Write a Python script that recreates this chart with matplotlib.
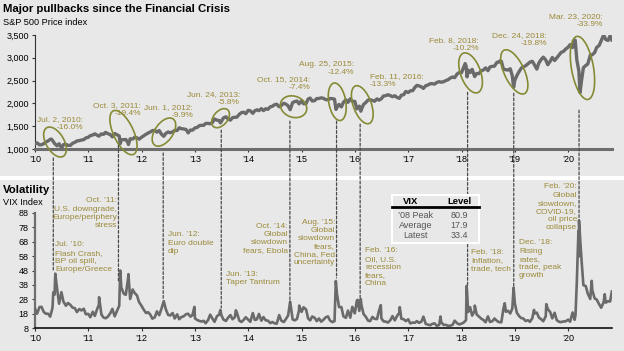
import matplotlib
matplotlib.use("Agg")
import matplotlib.pyplot as plt
import matplotlib.dates as mdates
import matplotlib.transforms as mtransforms
from matplotlib.patches import Ellipse, ConnectionPatch, Rectangle
from matplotlib.lines import Line2D
import numpy as np
import pandas as pd

plt.rcParams['font.family'] = ['Liberation Sans', 'DejaVu Sans']

# ---------------- data: S&P 500 (values on the 1st and 15th of each month) -------------
spx_2010 = [1115, 1136, 1090, 1094, 1115, 1150, 1178, 1211, 1187, 1120, 1070, 1115,
            1027, 1096, 1102, 1080, 1080, 1125, 1146, 1176, 1184, 1197, 1206, 1242]
spx_2011 = [1258, 1293, 1307, 1332, 1306, 1281, 1332, 1320, 1361, 1337, 1315, 1266,
            1340, 1316, 1286, 1204, 1204, 1209, 1131, 1224, 1219, 1257, 1244, 1216]
spx_2012 = [1258, 1289, 1324, 1350, 1374, 1402, 1408, 1370, 1405, 1330, 1310, 1342,
            1374, 1356, 1375, 1405, 1406, 1465, 1444, 1440, 1427, 1353, 1416, 1413]
spx_2013 = [1462, 1472, 1513, 1520, 1518, 1561, 1562, 1553, 1582, 1658, 1631, 1626,
            1606, 1682, 1706, 1661, 1633, 1688, 1695, 1698, 1762, 1798, 1806, 1775]
spx_2014 = [1848, 1838, 1782, 1838, 1859, 1841, 1885, 1842, 1883, 1870, 1924, 1937,
            1973, 1981, 1925, 1955, 2003, 1985, 1946, 1862, 2018, 2039, 2053, 1990]
spx_2015 = [2058, 1992, 1995, 2096, 2117, 2053, 2060, 2106, 2108, 2122, 2111, 2084,
            2077, 2108, 2104, 2092, 1913, 1978, 1923, 2023, 2079, 2023, 2102, 2043]
spx_2016 = [2044, 1880, 1940, 1870, 1978, 2016, 2073, 2081, 2065, 2047, 2099, 2071,
            2103, 2162, 2171, 2190, 2170, 2147, 2168, 2133, 2111, 2180, 2191, 2262]
spx_2017 = [2239, 2275, 2280, 2349, 2395, 2385, 2363, 2329, 2388, 2402, 2431, 2433,
            2423, 2459, 2476, 2465, 2476, 2500, 2519, 2553, 2579, 2564, 2642, 2675]
spx_2018 = [2674, 2786, 2822, 2732, 2678, 2747, 2588, 2656, 2654, 2711, 2735, 2779,
            2718, 2798, 2813, 2818, 2901, 2905, 2924, 2750, 2740, 2730, 2760, 2600]
spx_2019 = [2507, 2610, 2707, 2775, 2803, 2822, 2867, 2905, 2924, 2850, 2752, 2887,
            2964, 3014, 2953, 2848, 2926, 3007, 2940, 2996, 3066, 3120, 3141, 3191]
spx_2020 = [3231, 3289, 3225, 3380, 2954, 2711, 2470, 2783, 2831, 2863, 3055, 3067,
            3115, 3227, 3271, 3373, 3500, 3401, 3380, 3483]
spx_extra_dates = ["2010-04-23", "2010-07-02", "2011-04-29", "2011-08-08", "2011-10-03",
                   "2012-06-01", "2013-06-24", "2014-10-15", "2015-08-25", "2016-02-11",
                   "2018-01-26", "2018-02-08", "2018-09-20", "2018-12-24", "2020-02-19",
                   "2020-03-23", "2020-10-27"]
spx_extra_values = [1217, 1022, 1364, 1119, 1099, 1278, 1573, 1862, 1868, 1829,
                    2873, 2581, 2931, 2351, 3386, 2237, 3390]

# ---------------- data: VIX (1st and 15th of each month) ----------------
vix_2010 = [21.7, 17.9, 22.6, 22.7, 19.3, 18.0, 17.9, 15.9, 22.1, 31.2, 35.5, 24.9,
            32.9, 26.3, 23.5, 25.4, 24.0, 22.2, 21.8, 19.1, 21.2, 20.2, 21.4, 17.6]
vix_2011 = [17.8, 15.5, 19.3, 16.4, 20.7, 24.3, 17.4, 15.3, 14.8, 15.9, 18.3, 21.3,
            16.1, 19.5, 23.4, 36.3, 31.8, 31.1, 42.9, 28.2, 34.8, 32.3, 30.6, 26.0]
vix_2012 = [23.4, 20.9, 18.4, 19.0, 17.3, 14.5, 15.5, 19.6, 16.9, 21.0, 26.7, 21.1,
            17.1, 16.7, 18.4, 14.6, 17.5, 14.1, 15.7, 16.1, 17.6, 17.9, 15.9, 17.0]
vix_2013 = [14.7, 13.6, 12.9, 12.5, 13.0, 11.3, 13.6, 17.3, 14.5, 12.3, 16.3, 17.2,
            16.9, 13.9, 12.9, 15.1, 17.0, 14.1, 15.5, 18.7, 13.1, 12.2, 13.7, 15.5]
vix_2014 = [13.8, 12.3, 18.4, 13.6, 14.0, 17.8, 13.1, 15.6, 13.3, 13.2, 11.4, 12.2,
            11.2, 11.0, 17.0, 13.2, 12.1, 14.1, 16.7, 26.3, 14.0, 13.3, 14.3, 20.4]
vix_2015 = [19.2, 22.4, 20.9, 14.7, 13.3, 16.0, 15.1, 12.8, 14.6, 12.4, 13.8, 15.4,
            16.1, 13.2, 12.1, 12.8, 31.4, 22.5, 22.6, 16.1, 15.1, 20.1, 15.2, 22.7]
vix_2016 = [18.2, 27.0, 19.9, 24.1, 17.7, 16.0, 13.1, 12.8, 15.7, 14.4, 14.2, 20.1,
            14.8, 12.7, 12.4, 11.8, 13.5, 16.3, 13.3, 16.1, 18.6, 14.4, 14.1, 12.8]
vix_2017 = [14.0, 11.2, 11.8, 11.6, 12.8, 11.6, 12.4, 15.9, 10.8, 10.4, 9.9, 10.9,
            11.2, 9.5, 10.1, 12.0, 10.1, 10.2, 9.5, 9.6, 10.2, 13.1, 11.4, 10.5]
vix_2018 = [11.0, 11.7, 13.5, 19.1, 22.5, 16.6, 20.0, 17.4, 15.9, 14.6, 13.5, 12.0,
            16.1, 12.2, 12.8, 14.6, 12.9, 12.1, 12.0, 21.3, 19.3, 20.0, 18.1, 21.6]
vix_2019 = [25.4, 18.6, 16.1, 14.9, 14.6, 12.9, 13.4, 12.3, 14.8, 18.1, 18.7, 15.3,
            14.1, 12.7, 16.1, 21.2, 19.0, 14.7, 18.6, 13.5, 12.3, 12.1, 12.6, 12.6]
vix_2020 = [13.8, 12.4, 18.8, 13.7, 40.1, 57.8, 57.1, 37.8, 37.2, 31.9, 28.2, 34.4,
            28.6, 27.8, 24.5, 22.1, 26.1, 25.6, 26.7, 26.4]
vix_extra_dates = ["2010-05-06", "2010-05-20", "2011-03-16", "2011-08-08", "2011-10-03",
                   "2012-12-28", "2013-06-24", "2013-10-08", "2014-10-15", "2014-12-16",
                   "2015-08-24", "2016-01-20", "2016-02-11", "2016-06-27", "2016-11-04",
                   "2017-08-10", "2018-02-05", "2018-02-08", "2018-04-02", "2018-10-24",
                   "2018-12-24", "2019-05-13", "2019-08-05", "2020-02-21", "2020-03-12",
                   "2020-03-16", "2020-06-11", "2020-09-08", "2020-10-27"]
vix_extra_values = [32.8, 45.8, 29.4, 48.0, 45.5, 22.7, 20.5, 20.3, 26.3, 23.6,
                    40.7, 27.6, 28.1, 23.9, 22.5, 16.0, 37.3, 33.5, 23.6, 25.2,
                    36.1, 20.6, 24.6, 17.1, 75.5, 82.7, 40.8, 31.5, 33.4]

# ---------------- labels ----------------
years = list(range(2010, 2021))
year_labels = ["\u2019" + str(y)[2:] for y in years]
spx_ticks = [1000, 1500, 2000, 2500, 3000, 3500]
vix_ticks = [8, 18, 28, 38, 48, 58, 68, 78, 88]
pullback_labels = ["Jul. 2, 2010:\n-16.0%", "Oct. 3, 2011:\n-19.4%", "Jun. 1, 2012:\n-9.9%",
                   "Jun. 24, 2013:\n-5.8%", "Oct. 15, 2014:\n-7.4%", "Aug. 25, 2015:\n-12.4%",
                   "Feb. 11, 2016:\n-13.3%", "Feb. 8, 2018:\n-10.2%", "Dec. 24, 2018:\n-19.8%",
                   "Mar. 23, 2020:\n-33.9%"]
event_labels = ["Jul. \u201910:\nFlash Crash,\nBP oil spill,\nEurope/Greece",
                "Oct. \u201911:\nU.S. downgrade,\nEurope/periphery\nstress",
                "Jun. \u201912:\nEuro double\ndip",
                "Jun. \u201913:\nTaper Tantrum",
                "Oct. \u201914:\nGlobal\nslowdown\nfears, Ebola",
                "Aug. \u201915:\nGlobal\nslowdown\nfears,\nChina, Fed\nuncertainty",
                "Feb. \u201916:\nOil, U.S.\nrecession\nfears,\nChina",
                "Feb. \u201918:\nInflation,\ntrade, tech",
                "Dec. \u201918:\nRising\nrates,\ntrade, peak\ngrowth",
                "Feb. \u201920:\nGlobal\nslowdown,\nCOVID-19,\noil price\ncollapse"]
vix_stat_names = ["\u201908 Peak", "Average", "Latest"]
vix_stat_values = [80.9, 17.9, 33.4]


def build(year_lists, extra_dates, extra_values):
    dates, vals = [], []
    for y, lst in zip(years, year_lists):
        grid = [f"{y}-{m:02d}-{d:02d}" for m in range(1, 13) for d in (1, 15)]
        dates += grid[:len(lst)]
        vals += lst
    s = pd.Series(vals, index=pd.to_datetime(dates))
    e = pd.Series(extra_values, index=pd.to_datetime(extra_dates))
    s = pd.concat([s[~s.index.isin(e.index)], e]).sort_index()
    return mdates.date2num(s.index.to_pydatetime()), s.values


spx_x, spx_y = build([spx_2010, spx_2011, spx_2012, spx_2013, spx_2014, spx_2015, spx_2016,
                      spx_2017, spx_2018, spx_2019, spx_2020], spx_extra_dates, spx_extra_values)
vix_x, vix_y = build([vix_2010, vix_2011, vix_2012, vix_2013, vix_2014, vix_2015, vix_2016,
                      vix_2017, vix_2018, vix_2019, vix_2020], vix_extra_dates, vix_extra_values)


def dy(y):
    """decimal year -> matplotlib date number"""
    yr = int(np.floor(y))
    return mdates.date2num(pd.Timestamp(f"{yr}-01-01").to_pydatetime()) + (y - yr) * 365.25


# ---------------- styles ----------------
BG = '#e8e8e8'
LINE = '#6a6a6a'
OLIVE_TXT = '#9b8a3a'
OLIVE_ELL = '#858a34'
W, H = 624, 351


def fx(px):
    return px / W


def fy(py):
    return 1 - py / H


fig = plt.figure(figsize=(W / 100, H / 100), dpi=100)
fig.patch.set_facecolor(BG)

# white separator band
fig.add_artist(Rectangle((0, fy(180)), 1, 4 / H, transform=fig.transFigure,
                         facecolor='white', edgecolor='none', zorder=0.5))

ax1 = fig.add_axes([fx(35), fy(149), (612 - 35) / W, (149 - 35) / H])
ax2 = fig.add_axes([fx(35), fy(328), (612 - 35) / W, (328 - 213) / H])
xlim = (mdates.date2num(pd.Timestamp("2010-01-01").to_pydatetime()),
        mdates.date2num(pd.Timestamp("2020-10-28").to_pydatetime()))
tick_pos = [mdates.date2num(pd.Timestamp(f"{y}-01-01").to_pydatetime()) for y in years]

for ax in (ax1, ax2):
    ax.set_facecolor('none')
    ax.set_xlim(*xlim)
    ax.set_xticks(tick_pos)
    ax.set_xticklabels(year_labels, fontsize=6.5)
    for s in ('top', 'right'):
        ax.spines[s].set_visible(False)
    ax.tick_params(axis='x', direction='out', length=2, width=0.8, pad=2.5, color='#333333')
    ax.tick_params(axis='y', direction='out', length=2.5, width=0.8, pad=2, labelsize=6.5,
                   color='#333333')

# --- top panel
ax1.plot(spx_x, spx_y, color=LINE, lw=2.4, solid_joinstyle='round', zorder=3)
ax1.set_ylim(1000, 3500)
ax1.set_yticks(spx_ticks)
ax1.set_yticklabels([f"{v:,}" for v in spx_ticks])
ax1.spines['left'].set_color('#333333')
ax1.spines['left'].set_linewidth(0.8)
ax1.spines['bottom'].set_color('#6e6e6e')
ax1.spines['bottom'].set_linewidth(2.2)

# --- bottom panel
ax2.plot(vix_x, vix_y, color=LINE, lw=1.9, solid_joinstyle='round', zorder=3)
ax2.set_ylim(8, 88)
ax2.set_yticks(vix_ticks)
ax2.spines['left'].set_color('#6e6e6e')
ax2.spines['left'].set_linewidth(1.6)
ax2.spines['bottom'].set_color('#111111')
ax2.spines['bottom'].set_linewidth(1.2)

# titles
fig.text(fx(3), fy(12), "Major pullbacks since the Financial Crisis", fontsize=8.2,
         fontweight='bold', ha='left', va='baseline')
fig.text(fx(3), fy(25), "S&P 500 Price index", fontsize=6.6, ha='left', va='baseline')
fig.text(fx(3), fy(193), "Volatility", fontsize=8.2, fontweight='bold', ha='left', va='baseline')
fig.text(fx(3), fy(205), "VIX Index", fontsize=6.6, ha='left', va='baseline')

# ellipses around pullbacks (centre in data coords, size in pixels)
ellipses = [(2010.375, 1153, 33, 18, -60), (2011.66, 1360, 48, 20, -65),
            (2012.42, 1371, 32, 18, 55), (2013.48, 1676, 22, 14, 50),
            (2014.85, 1927, 27, 21, -20), (2015.67, 2036, 38, 17, -80),
            (2016.14, 1971, 40, 18, -70), (2018.17, 2669, 42, 20, -70),
            (2018.99, 2691, 48, 20, -65), (2020.27, 2778, 64, 22, -80)]
for (cx, cy, w, h, ang) in ellipses:
    tr = mtransforms.Affine2D().scale(fig.dpi / 100) + \
        mtransforms.ScaledTranslation(dy(cx), cy, ax1.transData)
    ax1.add_patch(Ellipse((0, 0), w, h, angle=ang, transform=tr, fill=False,
                          edgecolor=OLIVE_ELL, lw=1.2, clip_on=False, zorder=4))

# pullback labels (anchor px, top px, alignment)
pull_pos = [(83, 116.5, 'right'), (141, 102.5, 'right'), (193, 104.5, 'right'),
            (240, 91.5, 'right'), (310, 76.5, 'right'), (354, 61.5, 'right'),
            (370, 73.5, 'left'), (479, 37.5, 'right'), (547, 32.5, 'right'),
            (603, 13.5, 'right')]
for txt, (px, py, ha) in zip(pullback_labels, pull_pos):
    fig.text(fx(px), fy(py), txt, fontsize=6, color=OLIVE_TXT, ha=ha, va='top',
             multialignment=ha, linespacing=1.13)

# dashed connector lines (decimal year, top price, bottom vix)
connectors = [(2010.343, 804, 48.3), (2011.566, 1087, 40.0), (2012.406, 913, 27.5),
              (2013.493, 1415, 21.9), (2014.781, 1611, 25.4), (2015.657, 1611, 42.8),
              (2016.100, 1545, 28.9), (2018.114, 2244, 37.9), (2018.980, 2222, 36.5),
              (2020.206, 1851, 83.1)]
for (x, ytop, ybot) in connectors:
    cp = ConnectionPatch(xyA=(dy(x), ytop), coordsA=ax1.transData,
                         xyB=(dy(x), ybot), coordsB=ax2.transData,
                         color='#4a4a4a', lw=0.9, linestyle=(0, (2.2, 1.6)), zorder=2)
    fig.add_artist(cp)

# event labels in volatility panel (anchor px, top px, alignment)
event_pos = [(55, 241.5, 'left'), (117, 197.5, 'right'), (168, 231.5, 'left'),
             (226, 270.5, 'left'), (288, 222.5, 'right'), (335, 218.5, 'right'),
             (365, 247.5, 'left'), (471, 248.5, 'left'), (519, 239.5, 'left'),
             (577, 183.5, 'right')]
for txt, (px, py, ha) in zip(event_labels, event_pos):
    fig.text(fx(px), fy(py), txt, fontsize=6, color=OLIVE_TXT, ha=ha, va='top',
             multialignment=ha, linespacing=1.22, zorder=5)

# VIX table
fig.add_artist(Rectangle((fx(392), fy(243)), (479 - 392) / W, (243 - 195) / H,
                         transform=fig.transFigure, facecolor=BG, edgecolor='white',
                         lw=1.5, zorder=3))
fig.add_artist(Line2D([fx(392), fx(479)], [fy(207), fy(207)], transform=fig.transFigure,
                      color='black', lw=2, zorder=4))
fig.text(fx(411), fy(202), "VIX", fontsize=6.8, fontweight='bold', ha='center', va='center',
         zorder=5)
fig.text(fx(459), fy(202), "Level", fontsize=6.8, fontweight='bold', ha='center', va='center',
         zorder=5)
for i, (name, val) in enumerate(zip(vix_stat_names, vix_stat_values)):
    yy = [215, 225.5, 236][i]
    fig.text(fx(416), fy(yy), name, fontsize=6.5, color='#555555', ha='center', va='center',
             zorder=5)
    fig.text(fx(459), fy(yy), f"{val:.1f}", fontsize=6.5, color='#555555', ha='center',
             va='center', zorder=5)

fig.savefig("out.png", dpi=100, facecolor=BG)
